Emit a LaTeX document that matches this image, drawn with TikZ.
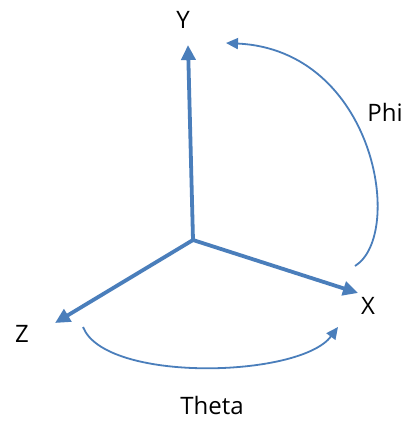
\documentclass[tikz,border=0pt]{standalone}
\usepackage{fontspec}
\setmainfont{Open Sans}
\usetikzlibrary{arrows.meta}
\definecolor{axblue}{HTML}{4A7EBB}
\begin{document}
\begin{tikzpicture}[x=1pt,y=-1pt,
  axis/.style={draw=axblue,line width=3.8pt,-{Triangle[length=15pt,width=14pt]}},
  rot/.style={draw=axblue,line width=1.8pt,-{Triangle[length=12pt,width=11pt]}},
  lbl/.style={font=\fontsize{24}{29}\selectfont,text=black,inner sep=0pt}]
\useasboundingbox (0,0) rectangle (413,421);
\fill[white] (0,0) rectangle (413,421);
\coordinate (O) at (193,240);
\coordinate (Yt) at (188,45);
\coordinate (Xt) at (358,293);
\coordinate (Zt) at (55,323);
\coordinate (P0) at (355,266);
\coordinate (P3) at (226,43);
\coordinate (T0) at (83,327);
\coordinate (T3) at (338,327);
\node[lbl] (Y) at (183,20) {Y};
\node[lbl] (X) at (368,306) {X};
\node[lbl] (Z) at (22,334) {Z};
\node[lbl] (Phi) at (385,112) {Phi};
\node[lbl] (Theta) at (212,405) {Theta};
\draw[axis] (O) -- (Yt);
\draw[axis] (O) -- (Xt);
\draw[axis] (O) -- (Zt);
\draw[rot] (P0) .. controls (405,235) and (375,50) .. (P3);
\draw[rot] (T0) .. controls (105,383) and (300,378) .. (T3);
\end{tikzpicture}
\end{document}
